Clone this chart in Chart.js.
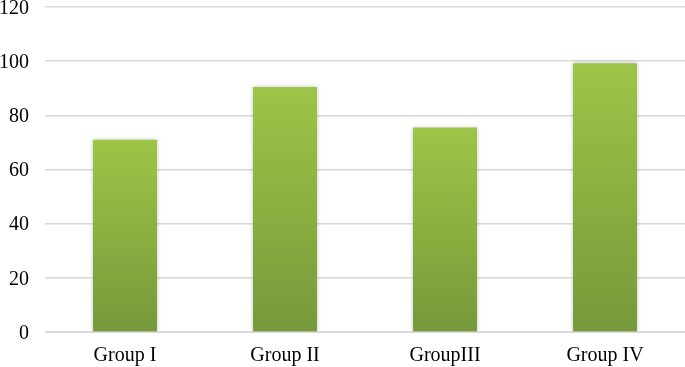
<!DOCTYPE html>
<html>
<head>
<meta charset="utf-8">
<script src="https://cdn.jsdelivr.net/npm/chart.js@4"></script>
<style>
  html, body { margin: 0; padding: 0; background: #fff; }
  #wrap { width: 685px; height: 367px; }
</style>
</head>
<body>
<div id="wrap"><canvas id="grafik"></canvas></div>
<script>
const kategori = ["Group I", "Group II", "GroupIII", "Group IV"];
const nilai = [71, 90.5, 75.5, 99.2];
const tickY = [0, 20, 40, 60, 80, 100, 120];

// gradien per batang: dari puncak batang ke dasar
function gradienHijau(context) {
    const chart = context.chart;
    const area = chart.chartArea;
    if (!area || context.dataIndex === undefined) return "#8db446";
    const yScale = chart.scales.y;
    const atas = yScale.getPixelForValue(context.raw);
    const g = chart.ctx.createLinearGradient(0, atas, 0, area.bottom);
    g.addColorStop(0, "#9dc547");
    g.addColorStop(1, "#76993a");
    return g;
}

const bayangan = {
    id: "bayangan",
    beforeDatasetsDraw(chart) {
        chart.ctx.save();
        chart.ctx.shadowColor = "rgba(0,0,0,0.25)";
        chart.ctx.shadowBlur = 4;
    },
    afterDatasetsDraw(chart) { chart.ctx.restore(); }
};

new Chart(document.getElementById("grafik"), {
    type: "bar",
    data: {
        labels: kategori,
        datasets: [{ data: nilai, backgroundColor: gradienHijau, barPercentage: 0.4, categoryPercentage: 1 }]
    },
    plugins: [bayangan],
    options: {
        responsive: true,
        maintainAspectRatio: false,
        animation: false,
        layout: { padding: { top: 7, right: 0, left: 0, bottom: 0 } },
        plugins: { legend: { display: false }, tooltip: { enabled: false } },
        scales: {
            x: {
                grid: { display: false, drawTicks: false },
                border: { color: "#d9d9d9", width: 1 },
                ticks: { color: "#000", font: { family: "Liberation Serif", size: 20 }, padding: 12, maxRotation: 0 },
                afterFit(scale) {
                    scale.height = 35;
                    scale.paddingLeft = 0; scale.paddingRight = 0;
                }
            },
            y: {
                min: 0, max: 120,
                afterBuildTicks(scale) { scale.ticks = tickY.map(v => ({ value: v })); },
                grid: { color: "#d9d9d9", lineWidth: 1.5, drawTicks: false },
                border: { display: false },
                ticks: { color: "#000", font: { family: "Liberation Serif", size: 20 }, padding: 16, labelOffset: 1.5 },
                afterFit(scale) {
                    scale.width = 45;
                    scale.paddingTop = 0; scale.paddingBottom = 0;
                }
            }
        }
    }
});
</script>
</body>
</html>
